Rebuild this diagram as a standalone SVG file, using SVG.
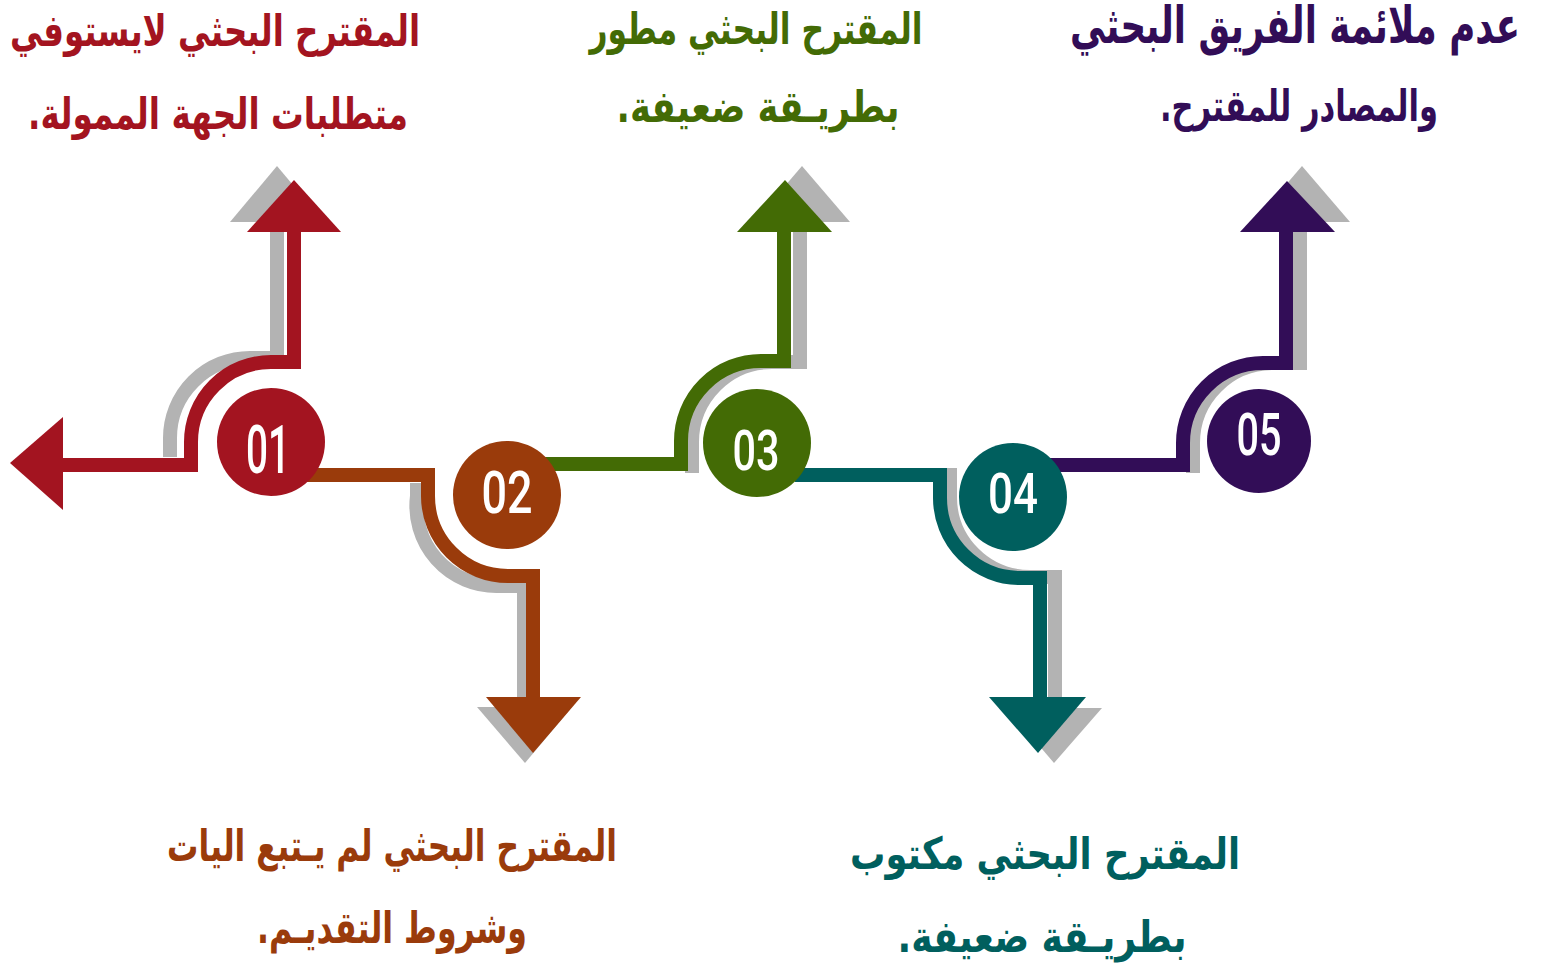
<svg xmlns="http://www.w3.org/2000/svg" width="1543" height="965" viewBox="0 0 1543 965">
<style>
.ln{fill:none;stroke-width:14;stroke-linejoin:miter;stroke-linecap:butt}
.sh{fill:none;stroke:#b3b3b3;stroke-width:14;stroke-linejoin:miter}
.shf{fill:#b3b3b3}
.num{fill:#ffffff;font-family:Roboto,"DejaVu Sans",sans-serif;font-weight:500;text-anchor:middle}
.lbl{font-family:"DejaVu Sans",sans-serif;font-weight:bold;text-anchor:middle;font-size:44px}
</style>
<rect width="1543" height="965" fill="#ffffff"/>
<g id="connectors">
  <path class="sh" d="M170 457 L170 438 A80 80 0 0 1 250 358 L277 358 L277 220"/>
  <polygon class="shf" points="230,222 324,222 277,166"/>
  <path class="sh" d="M417 483 L417 496 A80 80 0 0 0 497 586 L524 586 L524 709"/>
  <polygon class="shf" points="477,707 572,707 525,763"/>
  <path class="sh" d="M692 473 L692 442 A80 80 0 0 1 772 362 L800 362 L800 220"/>
  <polygon class="shf" points="754,222 850,222 802,166"/>
  <path class="sh" d="M950 468 L950 497 A80 80 0 0 0 1030 577 L1055 577 L1055 710"/>
  <polygon class="shf" points="1007,708 1102,708 1054,763"/>
  <path class="sh" d="M1193 473 L1193 443 A80 80 0 0 1 1273 363 L1300 363 L1300 220"/>
  <polygon class="shf" points="1254,222 1350,222 1302,166"/>
  <path class="ln" stroke="#a31420" d="M60 465 L191 465 L191 442 A80 80 0 0 1 271 362 L294 362 L294 230"/>
  <polygon fill="#a31420" points="247,232 341,232 294,180"/>
  <path class="ln" stroke="#9a3b0b" d="M300 475 L428 475 L428 496 A80 80 0 0 0 508 576 L533 576 L533 699"/>
  <polygon fill="#9a3b0b" points="486,697 581,697 533,753"/>
  <path class="ln" stroke="#436b05" d="M540 464 L681 464 L681 441 A80 80 0 0 1 761 361 L784 361 L784 230"/>
  <polygon fill="#436b05" points="737,232 832,232 785,180"/>
  <path class="ln" stroke="#005f5e" d="M795 475 L940 475 L940 498 A80 80 0 0 0 1020 578 L1040 578 L1040 699"/>
  <polygon fill="#005f5e" points="989,697 1086,697 1038,753"/>
  <path class="ln" stroke="#320d57" d="M1050 465 L1183 465 L1183 443 A80 80 0 0 1 1263 363 L1286 363 L1286 230"/>
  <polygon fill="#320d57" points="1240,232 1335,232 1287,181"/>
  <polygon fill="#a31420" points="10,463 63,417 63,510"/>
</g>
<g id="node01">
  <circle cx="271" cy="442" r="54" fill="#a31420"/>
  <text class="num" x="268" y="473" font-size="67" textLength="44" lengthAdjust="spacingAndGlyphs">01</text>
  <text class="lbl" fill="#a31420" x="215" y="46" textLength="410" lengthAdjust="spacingAndGlyphs">المقترح البحثي لايستوفي</text>
  <text class="lbl" fill="#a31420" x="218" y="129" textLength="380" lengthAdjust="spacingAndGlyphs">متطلبات الجهة الممولة.&#x200F;</text>
</g>
<g id="node02">
  <circle cx="507" cy="495" r="54" fill="#9a3b0b"/>
  <text class="num" x="507" y="513" font-size="60" textLength="51" lengthAdjust="spacingAndGlyphs">02</text>
  <text class="lbl" fill="#9a3b0b" x="392" y="861" textLength="450" lengthAdjust="spacingAndGlyphs">المقترح البحثي لم يـتبع اليات</text>
  <text class="lbl" fill="#9a3b0b" x="392" y="943" textLength="270" lengthAdjust="spacingAndGlyphs">وشروط التقديـم.&#x200F;</text>
</g>
<g id="node03">
  <circle cx="757" cy="443" r="54" fill="#436b05"/>
  <text class="num" x="756" y="470" font-size="56" textLength="47" lengthAdjust="spacingAndGlyphs">03</text>
  <text class="lbl" fill="#436b05" x="756" y="44" textLength="333" lengthAdjust="spacingAndGlyphs">المقترح البحثي مطور</text>
  <text class="lbl" fill="#436b05" x="758" y="122" textLength="283" lengthAdjust="spacingAndGlyphs">بطريـقة ضعيفة.&#x200F;</text>
</g>
<g id="node04">
  <circle cx="1013" cy="497" r="54" fill="#005f5e"/>
  <text class="num" x="1013" y="513" font-size="56" textLength="50" lengthAdjust="spacingAndGlyphs">04</text>
  <text class="lbl" fill="#005f5e" x="1045" y="869" textLength="390" lengthAdjust="spacingAndGlyphs">المقترح البحثي مكتوب</text>
  <text class="lbl" fill="#005f5e" x="1042" y="952" textLength="289" lengthAdjust="spacingAndGlyphs">بطريـقة ضعيفة.&#x200F;</text>
</g>
<g id="node05">
  <circle cx="1259" cy="441" r="52" fill="#320d57"/>
  <text class="num" x="1259" y="455" font-size="59" textLength="45" lengthAdjust="spacingAndGlyphs">05</text>
  <text class="lbl" fill="#320d57" transform="translate(1295 43) scale(1 1.16)" x="0" y="0" font-size="38" textLength="450" lengthAdjust="spacingAndGlyphs">عدم ملائمة الفريق البحثي</text>
  <text class="lbl" fill="#320d57" x="1299" y="121" textLength="278" lengthAdjust="spacingAndGlyphs">والمصادر للمقترح.&#x200F;</text>
</g>
</svg>
